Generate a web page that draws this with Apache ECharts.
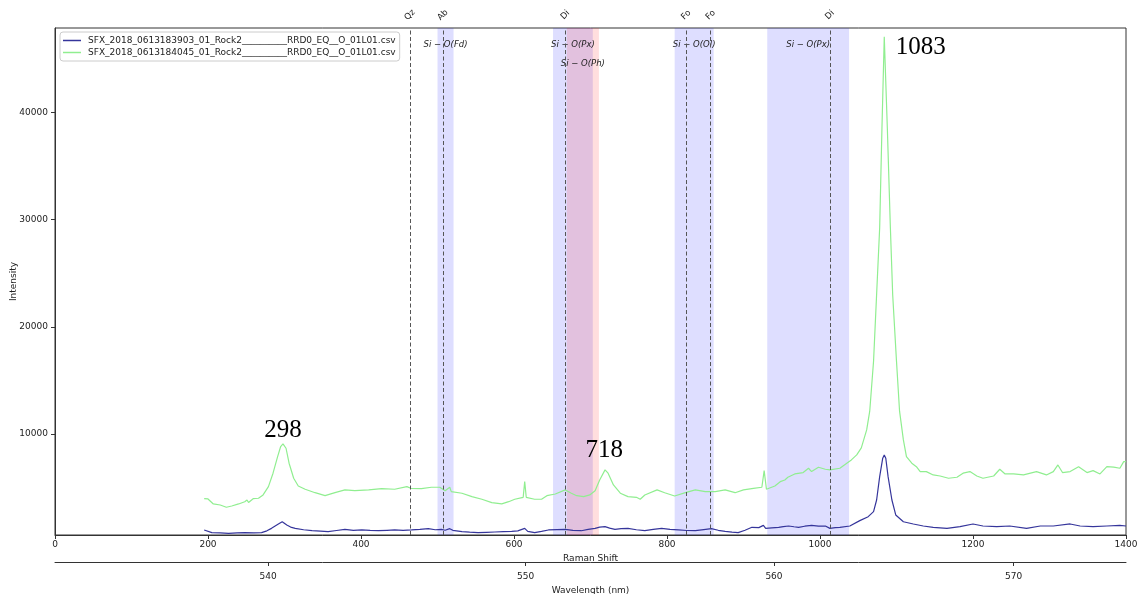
<!DOCTYPE html>
<html>
<head>
<meta charset="utf-8">
<script src="https://cdn.jsdelivr.net/npm/echarts@6/dist/echarts.min.js"></script>
<style>
html,body{margin:0;padding:0;background:#fff;}
#chart{width:1139px;height:594px;}
</style>
</head>
<body>
<div id="chart"></div>
<script>
// ---------- data ----------
const seriesNames = [
  'SFX_2018_0613183903_01_Rock2__________RRD0_EQ__O_01L01.csv',
  'SFX_2018_0613184045_01_Rock2__________RRD0_EQ__O_01L01.csv'
];

const blueShift = [195,205,216,227,238,248,260,270,277,283,292,297,303,308,314,325,336,347,357,368,379,390,401,412,423,434,444,455,466,477,488,497,505,510,516,520,532,542,553,564,575,586,597,605,614,618,627,636,645,656,667,677,688,697,706,712,719,725,732,740,749,760,771,782,793,804,815,826,837,848,858,867,876,885,893,902,911,920,926,929,937,946,952,959,966,972,980,989,998,1007,1013,1020,1026,1039,1052,1063,1070,1074,1078,1082,1084,1086,1089,1094,1099,1109,1122,1135,1148,1166,1183,1200,1213,1231,1248,1270,1288,1305,1327,1340,1357,1375,1392,1400];
const blueIntensity = [1030,780,750,720,760,780,760,780,950,1180,1590,1800,1490,1300,1180,1050,960,920,870,980,1090,1000,1030,990,960,1000,1030,1000,1030,1080,1150,1050,1090,1000,1150,1000,870,820,780,810,840,870,900,950,1180,900,780,900,1030,1060,1090,1000,960,1080,1180,1300,1340,1200,1090,1150,1180,1050,960,1080,1180,1080,1030,980,960,1060,1150,1000,900,830,780,1000,1280,1250,1460,1180,1230,1280,1350,1400,1330,1280,1380,1460,1380,1400,1180,1250,1280,1400,1900,2270,2740,3830,6010,7730,8040,7730,6010,3830,2430,1800,1590,1400,1280,1180,1340,1590,1400,1340,1400,1180,1400,1400,1590,1400,1340,1400,1460,1400];

const greenShift = [195,200,207,216,224,231,240,248,251,253,259,266,272,279,285,291,295,298,302,306,312,318,327,340,353,366,379,392,410,427,444,460,465,479,492,503,510,516,518,532,545,558,571,584,593,601,612,614,616,627,636,643,654,667,675,682,691,699,706,712,719,723,730,739,749,760,765,771,787,797,810,824,837,850,863,876,889,900,913,924,927,930,941,948,954,958,967,978,985,989,998,1007,1013,1026,1035,1041,1048,1054,1061,1065,1070,1074,1078,1081,1084,1088,1092,1095,1100,1104,1109,1113,1120,1126,1131,1139,1148,1157,1168,1179,1187,1196,1205,1213,1227,1235,1242,1253,1266,1283,1296,1305,1311,1317,1327,1338,1349,1357,1366,1375,1384,1392,1397,1400];
const greenIntensity = [3950,3925,3460,3360,3150,3270,3460,3670,3830,3600,3950,3990,4300,5080,6330,7880,8820,9070,8660,7260,5860,5140,4830,4510,4230,4510,4770,4700,4770,4890,4830,5080,4920,4890,5020,5020,4700,5020,4610,4460,4140,3900,3580,3460,3670,3900,4080,5540,4080,3900,3900,4230,4390,4770,4460,4230,4140,4300,4700,5700,6640,6330,5230,4460,4140,4080,3900,4300,4770,4510,4200,4510,4770,4610,4610,4770,4510,4770,4920,5020,6570,4830,5140,5540,5700,5950,6260,6390,6790,6480,6890,6700,6640,6790,7260,7570,8040,8690,10370,12120,16790,23020,29250,38600,47075,38600,29250,23020,16790,12120,9440,7880,7260,6940,6480,6480,6170,6070,5860,5950,6330,6480,6070,5860,6070,6700,6260,6260,6170,6480,6170,6480,7100,6390,6480,6940,6390,6570,6260,6940,6890,6790,7410,7410];

// reference lines (minerals)
const mineralNames = ['Qz','Ab','Di','Fo','Fo','Di'];
const mineralShifts = [464, 507, 667, 825, 857, 1013];

// shaded bands
const bandLabels = ['Si − O(Fd)','Si − O(Px)','Si − O(Ph)','Si − O(Ol)','Si − O(Px)'];
const bandStart = [500, 651, 669, 810, 931];
const bandEnd   = [521, 703, 711, 861, 1038];

// peak annotations
const peakLabels = ['298','718','1083'];
const peakShifts = [298, 718, 1084];

// axes
const ramanTicks = [0,200,400,600,800,1000,1200,1400];
const intensityTicks = [10000,20000,30000,40000];
const wavelengthTicks = [540,550,560,570];
const laserNm = 532;

// ---------- helpers ----------
const toShift = nm => 1e7 * (1/laserNm - 1/nm);
const toNm = s => 1 / (1/laserNm - s/1e7);
const zip = (a,b) => a.map((v,i)=>[v,b[i]]);
const peakValue = s => {
  let best = 0, bd = Infinity;
  greenShift.forEach((x,i)=>{ const d=Math.abs(x-s); if(d<bd){bd=d;best=greenIntensity[i];} });
  return best;
};

const FONT = 'DejaVu Sans';
const TXT = '#222';

const chart = echarts.init(document.getElementById('chart'), null, {renderer:'canvas'});

const peakLabelStyle = [
  {position:'top', distance: 0},
  {position:'top', distance: 6},
  {position:'right', distance: 11, offset:[0,11]}
];

chart.setOption({
  animation: false,
  backgroundColor: '#fff',
  grid: {left: 55, right: 13, top: 28, bottom: 59, containLabel: false, outerBoundsMode: 'none',
    show: true, borderColor: '#333', borderWidth: 1, backgroundColor: 'transparent'},
  legend: {
    data: seriesNames,
    orient: 'vertical',
    left: 60, top: 32,
    padding: [4, 4, 4, 3],
    itemGap: 3,
    icon: 'rect',
    itemWidth: 18, itemHeight: 1.5,
    borderColor: '#ccc', borderWidth: 1, borderRadius: 3,
    backgroundColor: 'rgba(255,255,255,0.8)',
    textStyle: {fontFamily: FONT, fontSize: 9, color: TXT, padding: [0,0,0,2]}
  },
  xAxis: [
    {
      type: 'value', min: 0, max: 1400, interval: 200,
      name: 'Raman Shift', nameLocation: 'middle', nameGap: 14,
      nameTextStyle: {fontFamily: FONT, fontSize: 9, color: TXT},
      axisLine: {lineStyle: {color: '#333'}},
      axisTick: {length: 4, lineStyle: {color: '#333'}},
      axisLabel: {fontFamily: FONT, fontSize: 9, color: TXT, margin: 5,
        customValues: ramanTicks, formatter: v => String(v)},
      splitLine: {show: false}
    },
    {
      type: 'value', min: 0, max: 1400, position: 'bottom', offset: 27,
      name: 'Wavelength (nm)', nameLocation: 'middle', nameGap: 20,
      nameTextStyle: {fontFamily: FONT, fontSize: 9, color: TXT},
      axisLine: {onZero: false, lineStyle: {color: '#333'}},
      axisTick: {length: 4, lineStyle: {color: '#333'}, customValues: wavelengthTicks.map(toShift)},
      axisLabel: {fontFamily: FONT, fontSize: 9, color: TXT, margin: 10,
        customValues: wavelengthTicks.map(toShift),
        formatter: v => String(Math.round(toNm(v)))},
      splitLine: {show: false}
    },
    {
      type: 'value', min: 0, max: 1400, position: 'top',
      axisLine: {show: false}, axisTick: {show: false},
      axisLabel: {fontFamily: FONT, fontSize: 8.5, color: TXT, margin: 13, rotate: -45,
        align: 'center', verticalAlign: 'middle',
        customValues: mineralShifts,
        formatter: v => mineralNames[mineralShifts.indexOf(v)]},
      splitLine: {show: false}
    }
  ],
  yAxis: {
    type: 'value', min: 560, max: 47900,
    name: 'Intensity', nameLocation: 'middle', nameGap: 37, nameMoveOverlap: false,
    nameTextStyle: {fontFamily: FONT, fontSize: 9, color: TXT},
    axisLine: {show: true, lineStyle: {color: '#333'}},
    axisTick: {show: true, length: 4, lineStyle: {color: '#333'}, customValues: intensityTicks},
    axisLabel: {fontFamily: FONT, fontSize: 9, color: TXT, margin: 7, customValues: intensityTicks,
      formatter: v => String(v)},
    splitLine: {show: false}
  },
  series: [
    {
      name: seriesNames[0], type: 'line', xAxisIndex: 0,
      data: zip(blueShift, blueIntensity),
      symbol: 'none', lineStyle: {color: '#35359b', width: 1.2}, itemStyle: {color: '#35359b'},
      z: 3,
      markArea: {
        silent: true,
        data: bandLabels.map((lab, i) => [
          {xAxis: bandStart[i], name: lab,
           itemStyle: {color: lab.indexOf('Ph') >= 0 ? 'rgba(255,0,0,0.13)' : 'rgba(0,0,255,0.13)'},
           label: {show: true, position: 'insideTop', distance: lab.indexOf('Ph') >= 0 ? 31 : 12,
             fontFamily: FONT, fontStyle: 'italic', fontSize: 8.5, color: TXT}},
          {xAxis: bandEnd[i]}
        ])
      },
      markLine: {
        silent: true, symbol: 'none',
        label: {show: false},
        lineStyle: {type: [4, 2.5], color: '#555', width: 1},
        data: mineralShifts.map(s => ({xAxis: s}))
      }
    },
    {
      name: seriesNames[1], type: 'line', xAxisIndex: 0,
      data: zip(greenShift, greenIntensity),
      symbol: 'none', lineStyle: {color: '#90ee90', width: 1.2}, itemStyle: {color: '#90ee90'},
      z: 4,
      markPoint: {
        symbol: 'circle', symbolSize: 1,
        itemStyle: {color: 'transparent'},
        data: peakLabels.map((lab, i) => ({
          coord: [peakShifts[i], peakValue(peakShifts[i])],
          value: lab,
          label: Object.assign({show: true, formatter: lab,
            fontFamily: 'Liberation Serif', fontSize: 25, color: '#000'}, peakLabelStyle[i])
        }))
      }
    }
  ]
});
</script>
</body>
</html>
